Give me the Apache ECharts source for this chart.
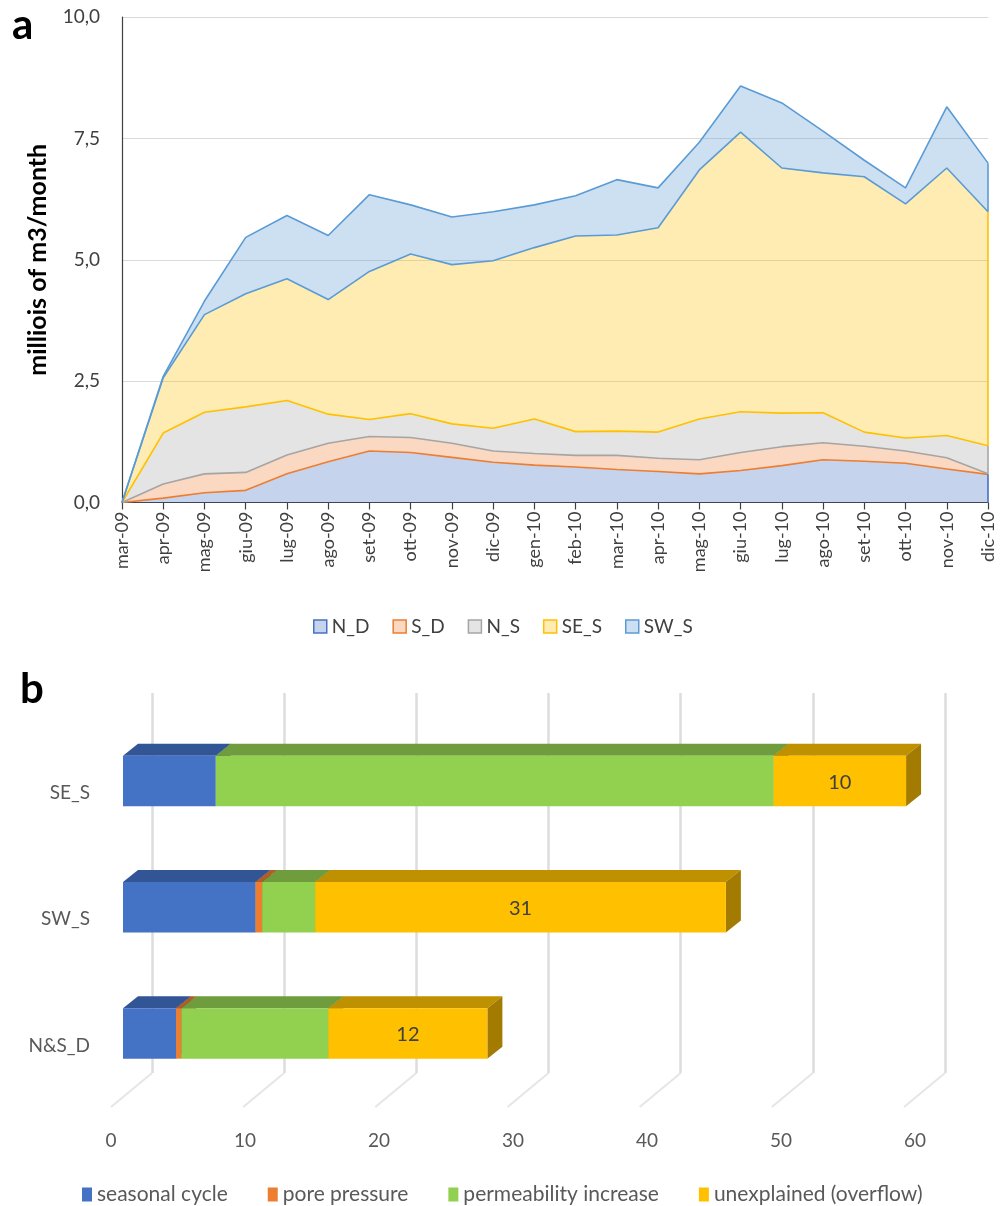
<!DOCTYPE html>
<html>
<head>
<meta charset="utf-8">
<script src="https://cdn.jsdelivr.net/npm/echarts@6/dist/echarts.min.js"></script>
<style>
  html, body { margin: 0; padding: 0; background: #fff; }
  #chart { width: 1005px; height: 1206px; }
</style>
</head>
<body>
<div id="chart"></div>
<script>
// ---- panel a: monthly volumes by sector (millions of m3/month), stacked ----
const months = ['mar-09', 'apr-09', 'mag-09', 'giu-09', 'lug-09', 'ago-09', 'set-09', 'ott-09',
  'nov-09', 'dic-09', 'gen-10', 'feb-10', 'mar-10', 'apr-10', 'mag-10', 'giu-10', 'lug-10',
  'ago-10', 'set-10', 'ott-10', 'nov-10', 'dic-10'];
const nD  = [0, 0.09, 0.20, 0.25, 0.59, 0.84, 1.06, 1.03, 0.93, 0.83, 0.77, 0.73, 0.68, 0.64, 0.59, 0.66, 0.76, 0.88, 0.85, 0.81, 0.69, 0.58];
const sD  = [0, 0.29, 0.39, 0.37, 0.39, 0.38, 0.30, 0.31, 0.29, 0.23, 0.24, 0.24, 0.29, 0.27, 0.29, 0.37, 0.39, 0.35, 0.31, 0.25, 0.23, 0.01];
const nS  = [0, 1.05, 1.27, 1.35, 1.12, 0.60, 0.35, 0.49, 0.40, 0.47, 0.71, 0.49, 0.50, 0.54, 0.84, 0.84, 0.69, 0.62, 0.29, 0.27, 0.46, 0.58];
const seS = [0, 1.14, 2.01, 2.33, 2.51, 2.36, 3.05, 3.29, 3.28, 3.45, 3.53, 4.03, 4.04, 4.21, 5.13, 5.76, 5.05, 4.94, 5.26, 4.82, 5.51, 4.82];
const swS = [0, 0.03, 0.28, 1.16, 1.30, 1.32, 1.58, 1.01, 0.98, 1.01, 0.88, 0.83, 1.14, 0.82, 0.57, 0.95, 1.34, 0.86, 0.34, 0.33, 1.26, 1.00];
const sectorNames = ['N_D', 'S_D', 'N_S', 'SE_S', 'SW_S'];

// ---- panel b: contributions per zone ----
const zones = ['N&S_D', 'SW_S', 'SE_S'];
const seasonalCycle = [4.0, 10.0, 7.0];
const porePressure = [0.4, 0.5, 0];
const permeabilityIncrease = [11.1, 4.0, 42.1];
const unexplained = [12, 31, 10];
const causeNames = ['seasonal cycle', 'pore pressure', 'permeability increase', 'unexplained (overflow)'];
const scaleTicks = [0, 10, 20, 30, 40, 50, 60];

const FONT = 'Lato';
const sectorBorder = ['#4472c4', '#ed7d31', '#a5a5a5', '#ffc000', '#5b9bd5'];
const sectorFill = ['rgba(68,114,196,0.31)', 'rgba(237,125,49,0.3)', 'rgba(165,165,165,0.3)',
  'rgba(255,192,0,0.3)', 'rgba(91,155,213,0.31)'];
const sectorData = [nD, sD, nS, seS, swS];

// each band boundary is stroked in the colour of the band lying above it
const areaSeries = sectorData.map((arr, k) => ({
  name: sectorNames[k],
  type: 'line',
  stack: 'total',
  xAxisIndex: 0, yAxisIndex: 0,
  data: arr,
  symbol: 'none',
  showSymbol: false,
  z: 2,
  itemStyle: { color: sectorFill[k], borderColor: sectorBorder[k] },
  lineStyle: { width: 1.6, color: sectorBorder[Math.min(k + 1, sectorData.length - 1)] },
  areaStyle: { color: sectorFill[k], opacity: 1 }
}));

// right-hand closing edges of each band
const last = months.length - 1;
let acc = 0;
const edgeData = sectorData.map((arr, k) => {
  const lo = acc; acc += arr[last];
  return [last, lo, acc, k];
});
const edgeSeries = {
  type: 'custom',
  xAxisIndex: 0, yAxisIndex: 0,
  z: 3,
  silent: true,
  encode: { x: 0, y: [1, 2] },
  data: edgeData,
  renderItem: (params, api) => {
    const a = api.coord([api.value(0), api.value(1)]);
    const b = api.coord([api.value(0), api.value(2)]);
    return {
      type: 'line',
      shape: { x1: a[0], y1: a[1], x2: b[0], y2: b[1] },
      style: { stroke: sectorBorder[api.value(3)], lineWidth: 1.6 }
    };
  }
};

// ---- 3D-looking stacked bars ----
const DX = 15, DY = 12;
const causeData = [seasonalCycle, porePressure, permeabilityIncrease, unexplained];
const causeFront = ['#4472c4', '#ed7d31', '#92d050', '#ffc000'];
const causeTop = ['#325596', '#b35d23', '#6f9c3d', '#bf9000'];
const causeSide = ['#2a4a85', '#9a4f1c', '#5e8834', '#a37b00'];
const cumStart = zones.map(() => 0);
const barSeries = causeData.map((arr, k) => {
  const data = arr.map((v, i) => {
    const s = cumStart[i];
    cumStart[i] += v;
    return [i, s, s + v, v];
  });
  const withLabel = k === causeData.length - 1;
  return {
    name: causeNames[k],
    type: 'custom',
    xAxisIndex: 1, yAxisIndex: 1,
    z: 5 + k,
    itemStyle: { color: causeFront[k] },
    encode: { x: [1, 2], y: 0 },
    data: data,
    renderItem: (params, api) => {
      const v = api.value(3);
      if (!(v > 0)) return null;
      const p0 = api.coord([api.value(1), api.value(0)]);
      const p1 = api.coord([api.value(2), api.value(0)]);
      const h = api.size([0, 1])[1] * 0.4;
      const top = p0[1] - h / 2, bot = p0[1] + h / 2;
      const x0 = p0[0], x1 = p1[0];
      const children = [
        { type: 'polygon', shape: { points: [[x0, top], [x0 + DX, top - DY], [x1 + DX, top - DY], [x1, top]] },
          style: { fill: causeTop[k] } },
        { type: 'polygon', shape: { points: [[x1, top], [x1 + DX, top - DY], [x1 + DX, bot - DY], [x1, bot]] },
          style: { fill: causeSide[k] } },
        { type: 'rect', shape: { x: x0, y: top, width: x1 - x0, height: h },
          style: { fill: causeFront[k] } }
      ];
      if (withLabel) {
        children.push({ type: 'text', style: {
          text: String(v), x: (x0 + x1) / 2, y: p0[1] + 1, align: 'center', verticalAlign: 'middle',
          fontFamily: FONT, fontSize: 20, fill: '#404040' } });
      }
      return { type: 'group', children };
    }
  };
});

// floor lines running forward from the back-wall gridlines
const floorSeries = {
  type: 'custom',
  xAxisIndex: 2, yAxisIndex: 2,
  z: 1,
  silent: true,
  encode: { x: 0 },
  data: scaleTicks.map(t => [t]),
  renderItem: (params, api) => {
    const p = api.coord([api.value(0), 0]);
    return {
      type: 'line',
      shape: { x1: p[0], y1: p[1], x2: p[0] - 41, y2: p[1] + 34 },
      style: { stroke: '#e6e6e6', lineWidth: 2 }
    };
  }
};

const chart = echarts.init(document.getElementById('chart'), null, { renderer: 'canvas' });
chart.setOption({
  animation: false,
  backgroundColor: '#fff',
  textStyle: { fontFamily: FONT },
  title: [
    { text: 'a', left: 12, top: 4, padding: 0, textStyle: { fontSize: 42, fontWeight: 'bold', color: '#000', fontFamily: FONT } },
    { text: 'b', left: 20, top: 668, padding: 0, textStyle: { fontSize: 42, fontWeight: 'bold', color: '#000', fontFamily: FONT } }
  ],
  legend: [
    {
      left: 313, top: 617, padding: 0,
      itemWidth: 13, itemHeight: 13, itemGap: 23, icon: 'rect',
      textStyle: { fontSize: 19, color: '#404040', fontFamily: FONT },
      data: sectorNames.map((n, k) => ({ name: n, itemStyle: { color: sectorFill[k], borderColor: sectorBorder[k], borderWidth: 1.5 } }))
    },
    {
      left: 82, top: 1184, padding: 0,
      itemWidth: 10, itemHeight: 14, itemGap: 40, icon: 'rect',
      textStyle: { fontSize: 21, color: '#595959', fontFamily: FONT },
      data: causeNames.map((n, k) => ({ name: n, itemStyle: { color: causeFront[k], borderWidth: 0 } }))
    }
  ],
  grid: [
    { left: 122, right: 17, top: 17, height: 485.5 },
    { left: 123, width: 795, top: 718, height: 378.5 },
    { left: 152, width: 793, top: 693, height: 380 },
    { left: 111, width: 804, top: 1106, height: 1 }
  ],
  xAxis: [
    {
      gridIndex: 0, type: 'category', data: months, boundaryGap: false,
      axisLine: { lineStyle: { color: '#404040', width: 1.2 } },
      axisTick: { show: true, length: 7, interval: 0, lineStyle: { color: '#404040', width: 1.2 } },
      axisLabel: { interval: 0, rotate: 90, fontSize: 18, color: '#404040', margin: 9, fontFamily: FONT },
      splitLine: { show: false }
    },
    { gridIndex: 1, type: 'value', min: 0, max: 60, show: false },
    {
      gridIndex: 2, type: 'value', min: 0, max: 60, interval: 10,
      axisLine: { show: false }, axisTick: { show: false }, axisLabel: { show: false },
      splitLine: { show: true, lineStyle: { color: '#dcdcdc', width: 2.5 } }
    },
    {
      gridIndex: 3, type: 'value', min: 0, max: 60, interval: 10,
      axisLine: { show: false }, axisTick: { show: false }, splitLine: { show: false },
      axisLabel: { fontSize: 19, color: '#595959', margin: 24, fontFamily: FONT }
    }
  ],
  yAxis: [
    {
      gridIndex: 0, type: 'value', min: 0, max: 10, interval: 2.5,
      name: 'milliois of m3/month', nameLocation: 'middle', nameRotate: 90, nameGap: 72,
      nameTextStyle: { fontSize: 25, fontWeight: 'bold', color: '#000', fontFamily: FONT },
      axisLine: { show: true, lineStyle: { color: '#404040', width: 1.2 } },
      axisTick: { show: false },
      axisLabel: { fontSize: 19, color: '#404040', margin: 22, fontFamily: FONT,
        formatter: v => v.toFixed(1).replace('.', ',') },
      splitLine: { show: true, lineStyle: { color: '#d9d9d9', width: 1.2 } }
    },
    {
      gridIndex: 1, type: 'category', data: zones,
      axisLine: { show: false }, axisTick: { show: false }, splitLine: { show: false },
      axisLabel: { fontSize: 19, color: '#595959', margin: 33, verticalAlign: 'top', lineHeight: 24, fontFamily: FONT }
    },
    { gridIndex: 2, type: 'value', min: 0, max: 1, show: false },
    { gridIndex: 3, type: 'value', min: 0, max: 1, show: false }
  ],
  series: [...areaSeries, edgeSeries, floorSeries, ...barSeries]
});
</script>
</body>
</html>
